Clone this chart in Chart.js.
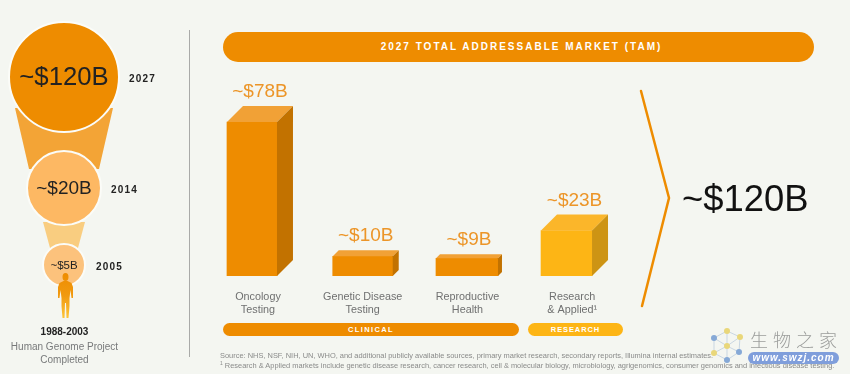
<!DOCTYPE html>
<html>
<head>
<meta charset="utf-8">
<script src="https://cdn.jsdelivr.net/npm/chart.js@4"></script>
<style>
  html, body { margin: 0; padding: 0; }
  body { width: 850px; height: 374px; overflow: hidden; background: #f4f6f1; position: relative; font-family: "Liberation Sans", Arial, sans-serif; }
  canvas { position: absolute; left: 0; top: 0; }
  .t { position: absolute; white-space: nowrap; }
  .pill { position: absolute; color: #fff; font-weight: bold; text-align: center; }
</style>
</head>
<body>
<canvas id="marketChart" width="850" height="374" style="width:850px;height:374px"></canvas>
<canvas id="timeChart" width="190" height="374" style="width:190px;height:374px"></canvas>

<div style="position:absolute;left:189px;top:30px;width:1px;height:327px;background:#a9aaa8"></div>
<div class="pill" style="left:223px;top:32px;width:591px;height:30px;line-height:30px;border-radius:15px;background:#ee8c00;font-size:10px;letter-spacing:2px;text-indent:6px">2027 TOTAL ADDRESSABLE MARKET (TAM)</div>
<div class="pill" style="left:223px;top:323px;width:296px;height:13px;line-height:13px;border-radius:7px;background:#ee8c00;font-size:7.5px;letter-spacing:1.4px">CLINICAL</div>
<div class="pill" style="left:528px;top:323px;width:95px;height:13px;line-height:13px;border-radius:7px;background:#fdb515;font-size:7.5px;letter-spacing:0.9px">RESEARCH</div>

<div class="t" style="left:682px;top:179px;font-size:36.4px;line-height:40px;color:#111">~$120B</div>

<div class="t" style="left:0;width:129px;top:326px;text-align:center;font-size:10px;font-weight:bold;color:#222">1988-2003</div>
<div class="t" style="left:0;width:129px;top:340px;text-align:center;font-size:10px;line-height:13px;color:#77797a">Human Genome Project<br>Completed</div>

<div class="t" style="left:220px;top:351px;font-size:7.45px;color:#8a8b8a">Source: NHS, NSF, NIH, UN, WHO, and additional publicly available sources, primary market research, secondary reports, Illumina internal estimates.</div>
<div class="t" style="left:220px;top:361px;font-size:7.45px;color:#8a8b8a"><sup style="font-size:5px;line-height:0">1</sup> Research &amp; Applied markets include genetic disease research, cancer research, cell &amp; molecular biology, microbiology, agrigenomics, consumer genomics and infectious disease testing.</div>

<!-- watermark in the corner of the picture -->
<div class="t" style="left:750px;top:328px;font-family:'Noto Sans CJK SC';font-weight:300;font-size:18px;line-height:22px;letter-spacing:5px;color:#9b9d9b">生物之家</div>
<div class="pill" style="left:748px;top:352px;width:91px;height:12px;line-height:12px;border-radius:6px;background:#7f9edb;font-size:10px;font-style:italic;letter-spacing:1px">www.swzj.com</div>

<script>
// market bars
const categories = [["Oncology", "Testing"], ["Genetic Disease", "Testing"], ["Reproductive", "Health"], ["Research", "& Applied\u00b9"]];
const marketValues = [78, 10, 9, 23];

// left column, market size by year
const years = [2027, 2014, 2005];
const yearValues = [120, 20, 5];

// look of the bars (not data)
const barWidths = [50, 60, 62, 51];
const barDepths = [16, 6, 4, 16];
const barShift = [-3, 3, 2.5, -2.7];
const frontColors = ["#ee8c00", "#ee8c00", "#ee8c00", "#fdb515"];
const topColors = ["#f1a136", "#f1a136", "#f1a136", "#fbb62a"];
const sideColors = ["#c27200", "#c27200", "#c27200", "#cd9414"];

// look of the circles
const circleSizes = [55, 37, 21];
const circleColors = ["#ee8c00", "#fdb863", "#fcc27c"];
const circleFonts = [25.7, 19, 11.5];
const yearGaps = [65, 47, 32];

function shape(ctx, pts, color) {
  ctx.fillStyle = color;
  ctx.beginPath();
  pts.forEach((p, i) => (i ? ctx.lineTo(p[0], p[1]) : ctx.moveTo(p[0], p[1])));
  ctx.closePath();
  ctx.fill();
}

// watermark logo
function drawLogo(ctx) {
  const nodes = [[727, 331, "#e9d77a"], [740, 337, "#e9d77a"], [714, 338, "#86a9d6"], [727, 346, "#e9d77a"], [739, 352, "#86a9d6"], [714, 353, "#e9d77a"], [727, 360, "#86a9d6"]];
  const links = [[0, 1], [0, 2], [0, 3], [1, 4], [2, 5], [3, 1], [3, 2], [3, 4], [3, 5], [3, 6], [4, 6], [5, 6]];
  ctx.strokeStyle = "#c9d6e2";
  ctx.lineWidth = 1;
  links.forEach((l) => {
    ctx.beginPath();
    ctx.moveTo(nodes[l[0]][0], nodes[l[0]][1]);
    ctx.lineTo(nodes[l[1]][0], nodes[l[1]][1]);
    ctx.stroke();
  });
  nodes.forEach((n) => {
    ctx.fillStyle = n[2];
    ctx.beginPath();
    ctx.arc(n[0], n[1], 3, 0, Math.PI * 2);
    ctx.fill();
  });
}

// draws top and side of the box, value label and the big chevron
const boxPlugin = {
  id: "boxes",
  afterDatasetsUpdate(chart) {
    chart.data.datasets.forEach((ds, i) => {
      chart.getDatasetMeta(i).data.forEach((bar, j) => {
        if (ds.data[j] != null) bar.x += barShift[i];
      });
    });
  },
  afterDatasetsDraw(chart) {
    const ctx = chart.ctx;
    marketValues.forEach((v, i) => {
      const bar = chart.getDatasetMeta(i).data[i];
      const d = barDepths[i];
      const l = bar.x - barWidths[i] / 2;
      const r = bar.x + barWidths[i] / 2;
      const top = bar.y;
      const bottom = bar.base;
      shape(ctx, [[l, top], [r, top], [r + d, top - d], [l + d, top - d]], topColors[i]);
      shape(ctx, [[r, top], [r + d, top - d], [r + d, bottom - d], [r, bottom]], sideColors[i]);

      ctx.fillStyle = "#ec9528";
      ctx.font = '19px "Liberation Sans"';
      ctx.textAlign = "center";
      ctx.textBaseline = "middle";
      ctx.fillText("~$" + v + "B", bar.x + d / 2, top - d - 14);
    });

    ctx.strokeStyle = "#ee8c00";
    ctx.lineWidth = 2.5;
    ctx.lineCap = "round";
    ctx.beginPath();
    ctx.moveTo(641, 91);
    ctx.lineTo(669, 198);
    ctx.lineTo(642, 306);
    ctx.stroke();

    drawLogo(ctx);
  }
};

new Chart(document.getElementById("marketChart"), {
  type: "bar",
  data: {
    labels: categories,
    // one dataset per bar, barThickness can't change inside a dataset
    datasets: marketValues.map((v, i) => ({
      data: marketValues.map((_, j) => (j === i ? v : null)),
      backgroundColor: frontColors[i],
      barThickness: barWidths[i]
    }))
  },
  options: {
    responsive: false,
    animation: false,
    layout: { autoPadding: false, padding: { left: 202.6, right: 228.4, top: 78.6, bottom: 0 } },
    plugins: { legend: { display: false }, tooltip: { enabled: false } },
    scales: {
      x: {
        stacked: true,
        grid: { display: false },
        border: { display: false },
        afterFit(scale) { scale.height = 98; },
        ticks: {
          padding: 7,
          labelOffset: 3,
          maxRotation: 0,
          color: "#6f7070",
          font: { family: "Liberation Sans", size: 10.8, lineHeight: 1.2 }
        }
      },
      y: { stacked: true, display: false, min: 0, max: 100 }
    }
  },
  plugins: [boxPlugin]
});

// funnel, person, text on the circles
const circlePlugin = {
  id: "circles",
  beforeDatasetsDraw(chart) {
    const ctx = chart.ctx;
    const p = chart.getDatasetMeta(0).data;
    const x = p[0].x;
    shape(ctx, [[x - 49, p[0].y + 31], [x + 49, p[0].y + 31], [x + 35, p[1].y - 19], [x - 35, p[1].y - 19]], "#f3a436");
    shape(ctx, [[x - 21, p[1].y + 34], [x + 21, p[1].y + 34], [x + 14, p[2].y - 17], [x - 14, p[2].y - 17]], "#f9cd80");
  },
  afterDatasetsDraw(chart) {
    const ctx = chart.ctx;
    const x = chart.getDatasetMeta(0).data[0].x + 1.5;

    chart.getDatasetMeta(0).data.forEach((pt, i) => {
      ctx.textBaseline = "middle";
      ctx.textAlign = "center";
      ctx.fillStyle = "#222";
      ctx.font = circleFonts[i] + 'px "Liberation Sans"';
      ctx.fillText("~$" + yearValues[i] + "B", pt.x, pt.y + 1);

      ctx.textAlign = "left";
      ctx.font = 'bold 10px "Liberation Sans"';
      ctx.letterSpacing = "1.2px";
      ctx.fillText(String(years[i]), pt.x + yearGaps[i], pt.y + 2);
      ctx.letterSpacing = "0px";
    });

    // person below the last circle
    const g = ctx.createLinearGradient(0, 273, 0, 319);
    g.addColorStop(0, "#ee8c00");
    g.addColorStop(0.5, "#f19a10");
    g.addColorStop(1, "#fdc63a");
    ctx.fillStyle = g;
    ctx.beginPath();
    ctx.ellipse(x, 277, 3, 4, 0, 0, Math.PI * 2);
    ctx.fill();
    shape(ctx, [[x - 2, 281], [x + 2, 281], [x + 6, 283], [x + 7.5, 287], [x + 7.5, 298], [x + 6, 298], [x + 5, 290],
      [x + 4, 298], [x + 4, 306], [x + 3, 318], [x + 1, 318], [x + 0.5, 303], [x - 0.5, 303], [x - 1, 318],
      [x - 3, 318], [x - 4, 306], [x - 4, 298], [x - 5, 290], [x - 6, 298], [x - 7.5, 298], [x - 7.5, 287], [x - 6, 283]], g);
  }
};

new Chart(document.getElementById("timeChart"), {
  type: "bubble",
  data: {
    datasets: [{
      data: years.map((y) => ({ x: 0.5, y: y })),
      radius: (c) => circleSizes[c.dataIndex],
      backgroundColor: circleColors,
      borderColor: "#fbfcf8",
      borderWidth: 2,
      clip: false
    }]
  },
  options: {
    responsive: false,
    animation: false,
    layout: { autoPadding: false, padding: { left: 0, right: 62, top: 77, bottom: 109 } },
    plugins: { legend: { display: false }, tooltip: { enabled: false } },
    scales: {
      x: { display: false, min: 0, max: 1 },
      y: { display: false, min: 2005, max: 2027 }
    }
  },
  plugins: [circlePlugin]
});
</script>
</body>
</html>
